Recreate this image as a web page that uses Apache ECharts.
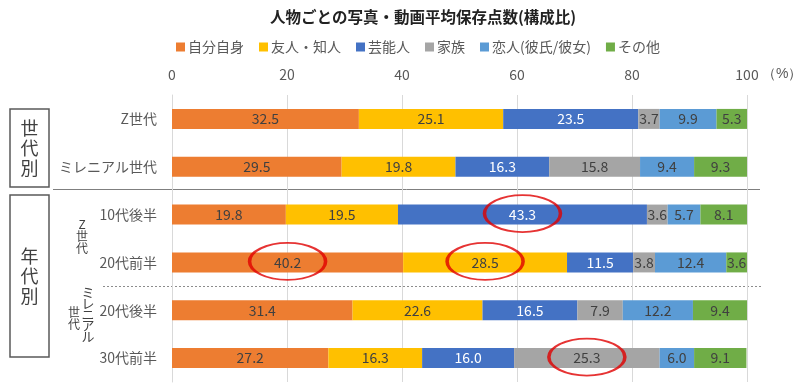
<!DOCTYPE html>
<html><head><meta charset="utf-8">
<script src="https://cdn.jsdelivr.net/npm/echarts@6/dist/echarts.min.js"></script>
<style>html,body{margin:0;padding:0;background:#fff}#c{width:800px;height:385px}</style>
</head><body><div id="c"></div>
<script>
const categories = ['Z世代','ミレニアル世代','10代後半','20代前半','20代後半','30代前半'];
const seriesNames = ['自分自身','友人・知人','芸能人','家族','恋人(彼氏/彼女)','その他'];
const selfVals    = [32.5, 29.5, 19.8, 40.2, 31.4, 27.2];
const friendVals  = [25.1, 19.8, 19.5, 28.5, 22.6, 16.3];
const celebVals   = [23.5, 16.3, 43.3, 11.5, 16.5, 16.0];
const familyVals  = [3.7, 15.8, 3.6, 3.8, 7.9, 25.3];
const partnerVals = [9.9, 9.4, 5.7, 12.4, 12.2, 6.0];
const otherVals   = [5.3, 9.3, 8.1, 3.6, 9.4, 9.1];
const xTicks = [0, 20, 40, 60, 80, 100];
// highlighted cells: [series index, category index]
const highlights = [[2, 2], [0, 3], [1, 3], [3, 5]];

const allVals = [selfVals, friendVals, celebVals, familyVals, partnerVals, otherVals];
const colors = ['#ED7D31', '#FFC000', '#4472C4', '#A5A5A5', '#5B9BD5', '#70AD47'];
const labelColors = ['#404040', '#404040', '#ffffff', '#404040', '#404040', '#404040'];
const FONT = '"Noto Sans CJK JP", "Noto Sans", sans-serif';

const ellipseData = highlights.map(([s, c]) => {
  let start = 0;
  for (let i = 0; i < s; i++) start += allVals[i][c];
  return [start + allVals[s][c] / 2, c];
});

const series = allVals.map((vals, i) => ({
  name: seriesNames[i],
  type: 'bar',
  stack: 'total',
  barWidth: 20,
  data: vals,
  itemStyle: { color: colors[i] },
  label: {
    show: true, position: 'inside',
    color: labelColors[i], fontSize: 14, fontFamily: FONT,
    formatter: p => p.value.toFixed(1)
  }
}));
series.push({
  type: 'scatter',
  data: ellipseData,
  symbol: 'circle',
  symbolSize: [76, 37],
  symbolOffset: [0, -1],
  silent: true,
  z: 10,
  itemStyle: { color: 'rgba(0,0,0,0)', borderColor: '#E00000', borderWidth: 2.5 }
});

const chart = echarts.init(document.getElementById('c'));
chart.setOption({
  animation: false,
  textStyle: { fontFamily: FONT },
  title: {
    text: '人物ごとの写真・動画平均保存点数(構成比)',
    left: 265, top: 4,
    textStyle: { fontSize: 15.5, fontWeight: 'bold', color: '#222', fontFamily: FONT }
  },
  legend: {
    data: seriesNames,
    left: 171, top: 35,
    icon: 'rect', itemWidth: 9, itemHeight: 9, itemGap: 15,
    textStyle: { fontSize: 14, color: '#595959', fontFamily: FONT, padding: [0, 0, 0, -2] }
  },
  grid: { left: 172, right: 53, top: 95, bottom: 3, containLabel: false },
  xAxis: {
    type: 'value', position: 'top', min: 0, max: 100, interval: 20,
    axisLine: { show: false }, axisTick: { show: false },
    splitLine: { lineStyle: { color: '#D9D9D9', width: 1 } },
    axisLabel: { fontSize: 14, color: '#595959', margin: 13, fontFamily: FONT,
      formatter: v => xTicks.includes(v) ? String(v) : '' }
  },
  yAxis: {
    type: 'category', data: categories, inverse: true,
    axisLine: { show: true, lineStyle: { color: '#D9D9D9' } },
    axisTick: { show: false },
    axisLabel: { fontSize: 14, color: '#595959', margin: 15, fontFamily: FONT }
  },
  graphic: [
    { type: 'text', left: 762, top: 67, style: { text: '（%）', fontSize: 14, fill: '#595959', font: '14px ' + FONT } },
    { type: 'rect', shape: { x: 10, y: 109, width: 39, height: 78 }, style: { fill: 'none', stroke: '#595959', lineWidth: 1.5 } },
    { type: 'rect', shape: { x: 10, y: 195, width: 39, height: 162 }, style: { fill: 'none', stroke: '#595959', lineWidth: 1.5 } },
    { type: 'text', x: 29.5, y: 148, style: { text: '世\n代\n別', font: '18px ' + FONT, fill: '#404040', align: 'center', verticalAlign: 'middle', lineHeight: 20 } },
    { type: 'text', x: 29.5, y: 276, style: { text: '年\n代\n別', font: '18px ' + FONT, fill: '#404040', align: 'center', verticalAlign: 'middle', lineHeight: 20 } },
    { type: 'text', x: 82, y: 236, style: { text: 'Z\n世\n代', font: '12px ' + FONT, fill: '#404040', align: 'center', verticalAlign: 'middle', lineHeight: 12 } },
    { type: 'text', x: 88, y: 314, style: { text: 'ミ\nレ\nニ\nア\nル', font: '13px ' + FONT, fill: '#404040', align: 'center', verticalAlign: 'middle', lineHeight: 11 } },
    { type: 'text', x: 74, y: 318, style: { text: '世\n代', font: '12px ' + FONT, fill: '#404040', align: 'center', verticalAlign: 'middle', lineHeight: 12 } },
    { type: 'line', shape: { x1: 53, y1: 189.5, x2: 760, y2: 189.5 }, style: { stroke: '#7F7F7F', lineWidth: 1 } },
    { type: 'line', shape: { x1: 103, y1: 286.5, x2: 762, y2: 286.5 }, style: { stroke: '#8C8C8C', lineWidth: 1, lineDash: [2, 2] } }
  ],
  series: series
});
</script></body></html>
